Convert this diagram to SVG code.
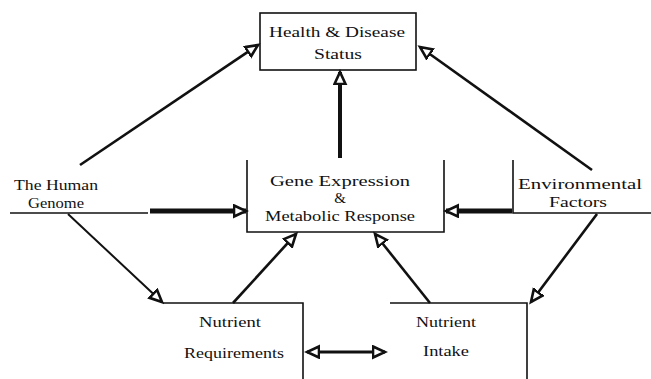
<svg xmlns="http://www.w3.org/2000/svg" width="651" height="379" viewBox="0 0 651 379">
<style>
.t{font-family:"Liberation Serif","DejaVu Serif",serif;font-size:15px;fill:#111;text-anchor:middle}
.b{fill:none;stroke:#111;stroke-width:1.6}
.c{fill:none;stroke:#111;stroke-linecap:butt}
</style>
<defs>
<marker id="ah" markerUnits="userSpaceOnUse" markerWidth="16" markerHeight="16" refX="13" refY="7" orient="auto">
<path d="M1,1.5 L13,7 L1,12.5 Z" fill="#fff" stroke="#111" stroke-width="2.6" stroke-linejoin="miter"/>
</marker>
<marker id="ahs" markerUnits="userSpaceOnUse" markerWidth="16" markerHeight="16" refX="13" refY="7" orient="auto-start-reverse">
<path d="M1,1.5 L13,7 L1,12.5 Z" fill="#fff" stroke="#111" stroke-width="2.6" stroke-linejoin="miter"/>
</marker>
</defs>
<rect width="651" height="379" fill="#fff"/>
<g id="health">
<rect class="b" x="260" y="13" width="156" height="57"/>
<text class="t" x="337" y="37" textLength="136" lengthAdjust="spacingAndGlyphs">Health &amp; Disease</text>
<text class="t" x="338" y="59" textLength="48" lengthAdjust="spacingAndGlyphs">Status</text>
</g>
<g id="gene">
<path class="b" d="M247,160 V232 H444 V160"/>
<text class="t" x="340" y="186" textLength="140" lengthAdjust="spacingAndGlyphs">Gene Expression</text>
<text class="t" x="340" y="203">&amp;</text>
<text class="t" x="340" y="221" textLength="150" lengthAdjust="spacingAndGlyphs">Metabolic Response</text>
</g>
<g id="genome">
<path class="b" d="M10,213 H148"/>
<text class="t" x="56" y="190" textLength="84" lengthAdjust="spacingAndGlyphs">The Human</text>
<text class="t" x="56" y="208" textLength="56" lengthAdjust="spacingAndGlyphs">Genome</text>
</g>
<g id="env">
<path class="b" d="M513,160 V213 H651"/>
<text class="t" x="580" y="189" textLength="124" lengthAdjust="spacingAndGlyphs">Environmental</text>
<text class="t" x="578" y="207" textLength="58" lengthAdjust="spacingAndGlyphs">Factors</text>
</g>
<g id="req">
<path class="b" d="M163,303 H303 V379"/>
<text class="t" x="230" y="327" textLength="62" lengthAdjust="spacingAndGlyphs">Nutrient</text>
<text class="t" x="234" y="358" textLength="100" lengthAdjust="spacingAndGlyphs">Requirements</text>
</g>
<g id="intake">
<path class="b" d="M390,303 H527 V379"/>
<text class="t" x="446" y="327" textLength="60" lengthAdjust="spacingAndGlyphs">Nutrient</text>
<text class="t" x="446" y="356" textLength="46" lengthAdjust="spacingAndGlyphs">Intake</text>
</g>
<g id="connectors">
<line class="c" x1="80" y1="165" x2="258" y2="45" stroke-width="2.6" marker-end="url(#ah)"/>
<line class="c" x1="592" y1="170" x2="420" y2="47" stroke-width="2.6" marker-end="url(#ah)"/>
<line class="c" x1="340" y1="158" x2="340" y2="72" stroke-width="4" marker-end="url(#ah)"/>
<line class="c" x1="150" y1="211" x2="246" y2="211" stroke-width="5" marker-end="url(#ah)"/>
<line class="c" x1="512" y1="211" x2="446" y2="211" stroke-width="5" marker-end="url(#ah)"/>
<line class="c" x1="68" y1="214" x2="162" y2="302" stroke-width="2" marker-end="url(#ah)"/>
<line class="c" x1="233" y1="303" x2="296" y2="234" stroke-width="2.6" marker-end="url(#ah)"/>
<line class="c" x1="430" y1="303" x2="375" y2="234" stroke-width="2.6" marker-end="url(#ah)"/>
<line class="c" x1="597" y1="214" x2="531" y2="302" stroke-width="2.6" marker-end="url(#ah)"/>
<line class="c" x1="307" y1="352" x2="385" y2="352" stroke-width="3" marker-start="url(#ahs)" marker-end="url(#ahs)"/>
</g>
</svg>
